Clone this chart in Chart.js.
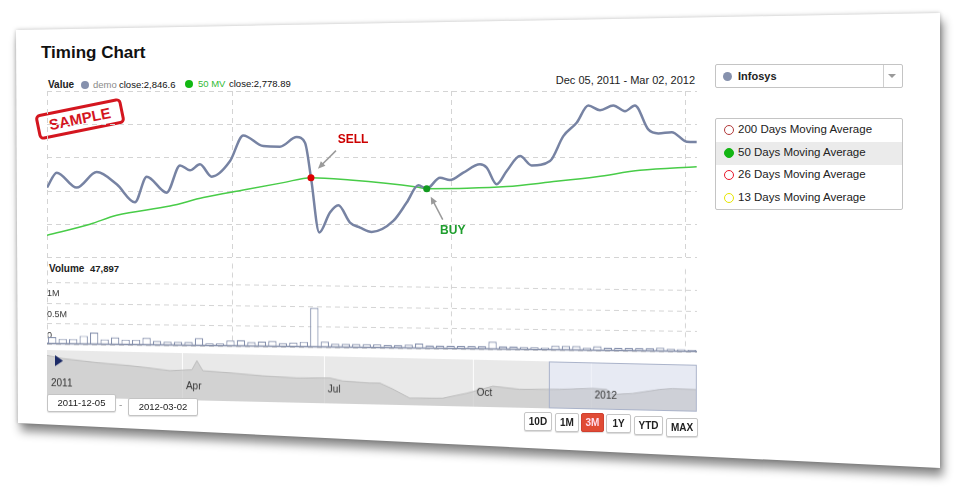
<!DOCTYPE html>
<html>
<head>
<meta charset="utf-8">
<script src="https://cdn.jsdelivr.net/npm/chart.js@4.4.1/dist/chart.umd.min.js"></script>
<style>
  html, body { margin: 0; padding: 0; background: #fff; }
  body { width: 964px; height: 489px; position: relative; overflow: hidden;
         font-family: "Liberation Sans", Arial, sans-serif; color: #222; }
  .card { position: absolute; left: 0; top: 0; width: 964px; height: 489px;
          filter: drop-shadow(0 0 2px rgba(0,0,0,.25)) drop-shadow(3px 8px 5px rgba(0,0,0,.45)); }
  .card div { position: absolute; left: 0; top: 0; width: 100%; height: 100%; background: #fff;
              clip-path: polygon(16px 30px, 940px 13px, 940px 468px, 18px 423px); }
  .t { position: absolute; white-space: nowrap; line-height: 1; }
  canvas { position: absolute; }
  .box { position: absolute; box-sizing: border-box; border: 1px solid #c4c4c4; border-radius: 2px; background: #fff; }
  .dot { position: absolute; box-sizing: border-box; border-radius: 50%; }
  .btn { position: absolute; box-sizing: border-box; border: 1px solid #c6c6c6; border-radius: 2px; background: #fff;
         font-size: 10px; font-weight: bold; text-align: center; box-shadow: 0 1px 1px rgba(0,0,0,.15); }
  .stamp { position: absolute; left: 36px; top: 106px; width: 88px; height: 26px; box-sizing: border-box;
           border: 3px solid #d4161f; border-radius: 5px; color: #d4161f; font-weight: bold; font-size: 15px;
           line-height: 20px; text-align: center; transform: rotate(-11.5deg); background: #fff; }
</style>
</head>
<body>
<div class="card"><div></div></div>

<div class="t" style="left:41px;top:44px;font-size:17px;font-weight:bold;color:#111;">Timing Chart</div>

<div class="t" style="left:48px;top:80px;font-size:10px;font-weight:bold;">Value</div>
<div class="dot" style="left:81px;top:81px;width:8px;height:8px;background:#8691ad;"></div>
<div class="t" style="left:93px;top:80px;font-size:9.5px;color:#8a8a8a;">demo</div>
<div class="t" style="left:119px;top:80px;font-size:9.5px;color:#111;">close:2,846.6</div>
<div class="dot" style="left:185px;top:80px;width:8px;height:8px;background:#12b812;"></div>
<div class="t" style="left:198px;top:79px;font-size:9.5px;color:#33bb33;">50 MV</div>
<div class="t" style="left:229px;top:79px;font-size:9.5px;color:#111;">close:2,778.89</div>

<div class="t" style="right:269px;top:75px;font-size:11px;color:#222;">Dec 05, 2011 - Mar 02, 2012</div>

<div class="box" style="left:715px;top:64px;width:188px;height:24px;"></div>
<div class="dot" style="left:723px;top:72px;width:9px;height:9px;background:#8691ad;"></div>
<div class="t" style="left:738px;top:71px;font-size:11px;font-weight:bold;">Infosys</div>
<div style="position:absolute;left:883px;top:65px;width:1px;height:22px;background:#cfcfcf;"></div>
<div style="position:absolute;left:888px;top:74px;width:0;height:0;border-left:4px solid transparent;border-right:4px solid transparent;border-top:4px solid #9a9a9a;"></div>

<div class="box" style="left:715px;top:118px;width:188px;height:92px;"></div>
<div style="position:absolute;left:716px;top:142px;width:186px;height:23px;background:#ebebeb;"></div>
<div id="maList"></div>

<div class="stamp">SAMPLE</div>

<canvas id="mainChart" width="652" height="168" style="left:46px;top:90px;"></canvas>

<div class="t" style="left:49px;top:264px;font-size:10px;font-weight:bold;">Volume</div>
<div class="t" style="left:90px;top:264px;font-size:9.5px;font-weight:bold;">47,897</div>

<canvas id="volumeChart" width="652" height="93" style="left:46px;top:256px;transform-origin:1px 0;transform:skewY(0.7deg);"></canvas>
<canvas id="navChart" width="652" height="49" style="left:46px;top:349px;transform-origin:1px 0;transform:skewY(1.3deg);"></canvas>

<div class="box" style="left:47px;top:394px;width:69px;height:18px;font-size:9.5px;line-height:16px;text-align:center;box-shadow:0 1px 1px rgba(0,0,0,.12);">2011-12-05</div>
<div class="t" style="left:119px;top:400px;font-size:10px;color:#999;">-</div>
<div class="box" style="left:128px;top:398px;width:70px;height:18px;font-size:9.5px;line-height:16px;text-align:center;box-shadow:0 1px 1px rgba(0,0,0,.12);">2012-03-02</div>

<div id="rangeButtons"></div>

<script>
// trading-day index (0 = Dec 05, 2011) and closing values
const demoDays = [-0.5, 0.43, 2.33, 4.24, 6.15, 7.89, 9.01, 10.92, 12.19, 13.14, 14.09, 15.21, 16.96, 18.22, 20.13, 21.72, 23.32, 24.11, 24.68, 25.47, 26.49, 27.29, 28.40, 29.36, 30.47, 32.53, 33.81, 34.92, 35.72, 36.99, 37.94, 39.21, 40.80, 41.44, 42.39, 43.35, 44.62, 45.73, 47.48, 48.75, 50.02, 51.13, 52.25, 53.52, 54.63, 55.58, 56.85, 57.81, 59.09, 60.52, 61.47];
const demoClose = [2721.2, 2762.5, 2721.2, 2764.1, 2730.3, 2680.8, 2751.4, 2707.4, 2782.5, 2768.8, 2785.3, 2751.4, 2794.4, 2865.0, 2835.6, 2834.0, 2860.4, 2845.0, 2748.7, 2597.4, 2652.4, 2672.5, 2625.0, 2611.2, 2599.1, 2629.4, 2680.0, 2727.5, 2718.4, 2748.7, 2742.1, 2762.5, 2785.3, 2776.2, 2730.3, 2766.9, 2808.1, 2782.5, 2794.4, 2863.1, 2900.0, 2947.5, 2934.6, 2947.5, 2931.9, 2947.5, 2881.5, 2870.5, 2874.1, 2847.7, 2846.6];

const mvDays = [-0.5, 3.60, 6.15, 11.23, 14.41, 18.22, 22.04, 24.68, 28.40, 34.76, 35.72, 39.53, 43.35, 47.48, 51.93, 56.06, 61.47];
const mvClose = [2590.0, 2620.3, 2645.0, 2670.6, 2693.7, 2714.6, 2735.0, 2748.7, 2742.1, 2722.9, 2718.4, 2719.3, 2724.0, 2736.6, 2751.4, 2768.8, 2778.9];

const signalNames = ['SELL', 'BUY'];
const signalDays = [24.68, 35.72];
const signalValues = [2748.7, 2718.4];
const signalColors = ['#dd0000', '#129a1f'];
const signalTextColors = ['#cc0000', '#1f9e2e'];

const volumes = [160000, 120000, 120000, 200000, 280000, 120000, 170000, 120000, 120000, 170000,
                 100000, 80000, 80000, 80000, 180000, 60000, 60000, 130000, 140000, 100000,
                 110000, 130000, 80000, 100000, 120000, 950000, 130000, 80000, 80000, 80000,
                 80000, 80000, 70000, 70000, 80000, 110000, 70000, 70000, 70000, 70000,
                 70000, 70000, 180000, 70000, 70000, 60000, 60000, 50000, 100000, 100000,
                 100000, 60000, 100000, 70000, 70000, 70000, 70000, 70000, 80000, 60000,
                 50000, 40000];

// month boundaries (Jan 1, Feb 1, Mar 1) in trading-day index
const monthGrid = [-0.5, 17.15, 38.03, 60.35];
const valueGrid = [2530, 2621.5, 2713, 2804.5, 2896, 2987.5];
const volumeGrid = [0, 500000, 1000000, 1500000];
const volumeLabels = ['0', '0.5M', '1M', ''];

// navigator: weeks since Jan 2011
const navWeeks = [0, 1.5, 4.69, 7.79, 9.38, 11.54, 13.6, 14.07, 14.63, 17.17, 20.26, 23.45, 26.55, 27.77, 30.3, 31.24, 32.46, 34.05, 37.15, 39.4, 41.84, 44.37, 46.9, 48.12, 51.22, 52.53, 53.1, 54.97, 57.5, 58.72, 60.98];
const navClose = [3236.6, 3180.6, 3114.6, 3068.6, 3036.6, 2986.6, 3014.6, 3198.6, 3000.6, 2970.6, 2924.6, 2898.6, 2912.6, 2858.6, 2830.6, 2834.6, 2720.6, 2546.6, 2560.6, 2670.6, 2822.6, 2772.6, 2784.6, 2790.6, 2824.6, 2810.6, 2712.6, 2740.6, 2832.6, 2856.6, 2846.6];
const navTicks = [0, 12.66, 25.98, 39.96, 51.03];
const navLabels = ['2011', 'Apr', 'Jul', 'Oct', '2012'];
const selectedRange = [47.1, 61];

const maLabels = ['200 Days Moving Average', '50 Days Moving Average', '26 Days Moving Average', '13 Days Moving Average'];
const maColors = ['#b23a3a', '#13b513', '#e8182a', '#e6e600'];
const maActive = [false, true, false, false];

const rangeLabels = ['10D', '1M', '3M', '1Y', 'YTD', 'MAX'];
const rangeSelected = '3M';

// page furniture built from the lists
const maBox = document.getElementById('maList');
const maRows = [130, 153, 175, 198];
maLabels.forEach((label, i) => {
  const d = document.createElement('div');
  d.className = 'dot';
  d.style.cssText = `left:723.5px;top:${maRows[i] - 5}px;width:10px;height:10px;border:1.5px solid ${maColors[i]};background:${maActive[i] ? maColors[i] : '#fff'};`;
  maBox.appendChild(d);
  const t = document.createElement('div');
  t.className = 't';
  t.style.cssText = `left:738px;top:${maRows[i] - 6}px;font-size:11.5px;color:#222;`;
  t.textContent = label;
  maBox.appendChild(t);
});

const btnBox = document.getElementById('rangeButtons');
const btnPos = [[524, 412, 28], [555, 413, 24], [581, 413, 23], [606, 414, 25], [634, 416, 29], [666, 418, 32]];
rangeLabels.forEach((label, i) => {
  const b = document.createElement('div');
  b.className = 'btn';
  const [l, t, w] = btnPos[i];
  const on = label === rangeSelected;
  b.style.cssText = `left:${l}px;top:${t}px;width:${w}px;height:19px;line-height:17px;` +
    (on ? 'background:#e04b35;border-color:#d04030;color:#fde;' : '');
  b.textContent = label;
  btnBox.appendChild(b);
});

Chart.defaults.font.family = '"Liberation Sans", Arial, sans-serif';

function gridAxis(values, min, max) {
  return {
    type: 'linear', min: min, max: max, offset: false,
    afterBuildTicks: s => { s.ticks = values.map(v => ({ value: v })); },
    ticks: { display: false },
    grid: { display: false, drawTicks: false, offset: false },
    border: { display: false }
  };
}

// dashed grid drawn at the axis ticks
const dashedGrid = {
  id: 'dashedGrid',
  beforeDatasetsDraw(chart) {
    const { ctx, chartArea: a, scales: { x, y } } = chart;
    ctx.save();
    ctx.strokeStyle = '#d4d4d4';
    ctx.lineWidth = 1;
    ctx.setLineDash([5, 4]);
    x.ticks.forEach(t => {
      const px = Math.round(x.getPixelForValue(t.value)) + 0.5;
      ctx.beginPath(); ctx.moveTo(px, a.top); ctx.lineTo(px, a.bottom); ctx.stroke();
    });
    y.ticks.forEach(t => {
      const py = Math.round(y.getPixelForValue(t.value)) + 0.5;
      ctx.beginPath(); ctx.moveTo(a.left, py); ctx.lineTo(a.right, py); ctx.stroke();
    });
    ctx.restore();
  }
};

// SELL / BUY arrows and labels, offsets from the signal point in px
const annotationOffsets = [
  { label: [42, -38], tail: [25, -27], head: [7, -9] },
  { label: [26, 42], tail: [16, 31], head: [4, 8] }
];
const signalPlugin = {
  id: 'signals',
  afterDatasetsDraw(chart) {
    const { ctx, scales: { x, y } } = chart;
    ctx.save();
    signalNames.forEach((name, i) => {
      const px = x.getPixelForValue(signalDays[i]);
      const py = y.getPixelForValue(signalValues[i]);
      const o = annotationOffsets[i];
      const x1 = px + o.tail[0], y1 = py + o.tail[1];
      const x2 = px + o.head[0], y2 = py + o.head[1];
      const a = Math.atan2(y2 - y1, x2 - x1);
      ctx.strokeStyle = '#9a9a9a';
      ctx.fillStyle = '#9a9a9a';
      ctx.lineWidth = 1.5;
      ctx.beginPath();
      ctx.moveTo(x1, y1);
      ctx.lineTo(x2 - 4 * Math.cos(a), y2 - 4 * Math.sin(a));
      ctx.stroke();
      ctx.beginPath();
      ctx.moveTo(x2, y2);
      ctx.lineTo(x2 - 8 * Math.cos(a - 0.42), y2 - 8 * Math.sin(a - 0.42));
      ctx.lineTo(x2 - 8 * Math.cos(a + 0.42), y2 - 8 * Math.sin(a + 0.42));
      ctx.closePath();
      ctx.fill();
      ctx.font = 'bold 12px "Liberation Sans", Arial, sans-serif';
      ctx.fillStyle = signalTextColors[i];
      ctx.textAlign = 'center';
      ctx.textBaseline = 'middle';
      ctx.fillText(name, px + o.label[0], py + o.label[1]);
    });
    ctx.restore();
  }
};

new Chart(document.getElementById('mainChart'), {
  type: 'line',
  data: {
    datasets: [
      {
        label: 'signals',
        data: signalDays.map((d, i) => ({ x: d, y: signalValues[i] })),
        showLine: false,
        pointRadius: 3.5,
        pointBorderWidth: 0,
        pointBackgroundColor: signalColors,
        order: 0
      },
      {
        label: 'demo',
        data: demoDays.map((d, i) => ({ x: d, y: demoClose[i] })),
        borderColor: '#7783a3',
        borderWidth: 2.5,
        pointRadius: 0,
        cubicInterpolationMode: 'monotone',
        order: 1
      },
      {
        label: '50 MV',
        data: mvDays.map((d, i) => ({ x: d, y: mvClose[i] })),
        borderColor: '#48cc48',
        borderWidth: 1.5,
        pointRadius: 0,
        cubicInterpolationMode: 'monotone',
        order: 2
      }
    ]
  },
  options: {
    responsive: false,
    animation: false,
    layout: { padding: 1, autoPadding: false },
    plugins: { legend: { display: false }, tooltip: { enabled: false } },
    scales: {
      x: gridAxis(monthGrid, -0.5, 61.5),
      y: gridAxis(valueGrid, 2530, 2987.5)
    }
  },
  plugins: [dashedGrid, signalPlugin]
});

const baselinePlugin = {
  id: 'baseline',
  afterDatasetsDraw(chart) {
    const { ctx, chartArea, scales: { y } } = chart;
    const py = Math.round(y.getPixelForValue(0)) - 0.5;
    ctx.save();
    ctx.strokeStyle = '#8791ab';
    ctx.lineWidth = 1.5;
    ctx.beginPath();
    ctx.moveTo(chartArea.left, py);
    ctx.lineTo(chartArea.right, py);
    ctx.stroke();
    ctx.restore();
  }
};

const volumeY = gridAxis(volumeGrid, 0, 2000000);
volumeY.ticks = {
  display: true, mirror: true, padding: 0, labelOffset: -8.5,
  color: '#333', font: { size: 9 },
  callback: v => volumeLabels[volumeGrid.indexOf(v)]
};

new Chart(document.getElementById('volumeChart'), {
  type: 'bar',
  data: {
    datasets: [{
      label: 'Volume',
      data: volumes.map((v, i) => ({ x: i, y: v })),
      backgroundColor: '#fff',
      borderColor: '#8590ad',
      borderWidth: 1.2,
      barPercentage: 0.8,
      categoryPercentage: 1
    }]
  },
  options: {
    responsive: false,
    animation: false,
    layout: { padding: 1, autoPadding: false },
    plugins: { legend: { display: false }, tooltip: { enabled: false } },
    scales: {
      x: gridAxis(monthGrid, -0.5, 61.5),
      y: volumeY
    }
  },
  plugins: [dashedGrid, baselinePlugin]
});

const navPlugin = {
  id: 'navigator',
  beforeDatasetsDraw(chart) {
    const { ctx, chartArea: a, scales: { x } } = chart;
    ctx.save();
    ctx.fillStyle = '#e9e9e9';
    ctx.fillRect(a.left, a.top, a.width, a.height);
    const s0 = x.getPixelForValue(selectedRange[0]), s1 = x.getPixelForValue(selectedRange[1]);
    ctx.fillStyle = '#f3f4f8';
    ctx.fillRect(s0, a.top, s1 - s0, a.height);
    ctx.strokeStyle = 'rgba(255,255,255,0.9)';
    ctx.lineWidth = 1;
    navTicks.slice(1).forEach(v => {
      const px = Math.round(x.getPixelForValue(v)) + 0.5;
      ctx.beginPath();
      ctx.moveTo(px, a.top);
      ctx.lineTo(px, a.bottom);
      ctx.stroke();
    });
    ctx.restore();
  },
  afterDatasetsDraw(chart) {
    const { ctx, chartArea: a, scales: { x } } = chart;
    ctx.save();
    const s0 = x.getPixelForValue(selectedRange[0]), s1 = x.getPixelForValue(selectedRange[1]);
    ctx.fillStyle = 'rgba(175,188,220,0.18)';
    ctx.fillRect(s0, a.top, s1 - s0, a.height);
    ctx.strokeStyle = '#aab3ca';
    ctx.lineWidth = 1;
    ctx.strokeRect(Math.round(s0) + 0.5, a.top + 0.5, Math.round(s1 - s0) - 1, a.height - 1);
    ctx.font = '10px "Liberation Sans", Arial, sans-serif';
    ctx.fillStyle = '#333';
    ctx.textBaseline = 'middle';
    navTicks.forEach((v, i) => {
      ctx.fillText(navLabels[i], x.getPixelForValue(v) + 4, a.top + 33);
    });
    ctx.fillStyle = '#1b2a66';
    ctx.beginPath();
    ctx.moveTo(a.left + 8, a.top + 5);
    ctx.lineTo(a.left + 16, a.top + 10.5);
    ctx.lineTo(a.left + 8, a.top + 16);
    ctx.closePath();
    ctx.fill();
    ctx.restore();
  }
};

new Chart(document.getElementById('navChart'), {
  type: 'line',
  data: {
    datasets: [{
      label: 'navigator',
      data: navWeeks.map((w, i) => ({ x: w, y: navClose[i] })),
      borderColor: '#bdbdbd',
      borderWidth: 1,
      backgroundColor: 'rgba(200,200,200,0.7)',
      fill: 'start',
      pointRadius: 0,
      tension: 0
    }]
  },
  options: {
    responsive: false,
    animation: false,
    layout: { padding: 1, autoPadding: false },
    plugins: { legend: { display: false }, tooltip: { enabled: false } },
    scales: {
      x: { type: 'linear', min: 0, max: 61, display: false },
      y: { type: 'linear', min: 2405, max: 3345, display: false }
    }
  },
  plugins: [navPlugin]
});
</script>
</body>
</html>
